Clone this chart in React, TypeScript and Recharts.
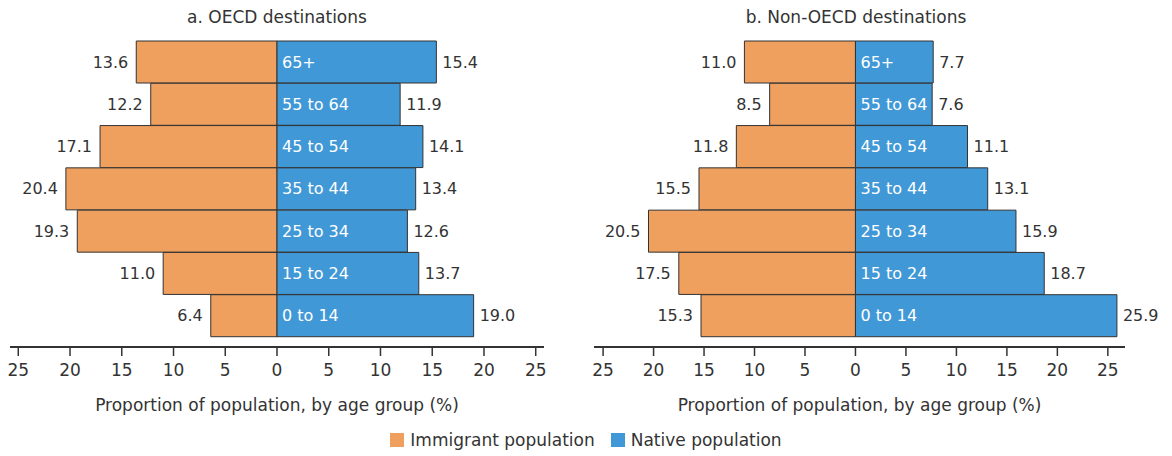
import React from "react";
import { BarChart, Bar, XAxis, YAxis, LabelList, Label } from "recharts";

const AGE_GROUPS = ["65+", "55 to 64", "45 to 54", "35 to 44", "25 to 34", "15 to 24", "0 to 14"];

const OECD_IMMIGRANT = [13.6, 12.2, 17.1, 20.4, 19.3, 11.0, 6.4];
const OECD_NATIVE = [15.4, 11.9, 14.1, 13.4, 12.6, 13.7, 19.0];

const NON_OECD_IMMIGRANT = [11.0, 8.5, 11.8, 15.5, 20.5, 17.5, 15.3];
const NON_OECD_NATIVE = [7.7, 7.6, 11.1, 13.1, 15.9, 18.7, 25.9];

const X_TICKS = [-25, -20, -15, -10, -5, 0, 5, 10, 15, 20, 25];

const ORANGE = "#EF9F5E";
const BLUE = "#4198D7";
const INK = "#333333";
const FONT = "'DejaVu Sans', sans-serif";
const FS = 17;
const LABEL_FS = 16;

const buildRows = (immigrant: number[], native: number[]) =>
  AGE_GROUPS.map((age, i) => ({ age, immigrant: -immigrant[i], native: native[i] }));

// labels drawn by hand so negative bars are handled the same way
const immigrantValue = (p: any) => {
  const x = Number(p.x), w = Number(p.width), y = Number(p.y), h = Number(p.height);
  const left = Math.min(x, x + w);
  return (
    <text x={left - 8} y={y + h / 2} textAnchor="end" dominantBaseline="central" fill={INK} fontSize={LABEL_FS} fontFamily={FONT}>
      {Math.abs(Number(p.value)).toFixed(1)}
    </text>
  );
};

const nativeValue = (p: any) => {
  const x = Number(p.x), w = Number(p.width), y = Number(p.y), h = Number(p.height);
  const right = Math.max(x, x + w);
  return (
    <text x={right + 6} y={y + h / 2} textAnchor="start" dominantBaseline="central" fill={INK} fontSize={LABEL_FS} fontFamily={FONT}>
      {Number(p.value).toFixed(1)}
    </text>
  );
};

const ageLabel = (p: any) => {
  const x = Number(p.x), w = Number(p.width), y = Number(p.y), h = Number(p.height);
  const left = Math.min(x, x + w);
  return (
    <text x={left + 5} y={y + h / 2} textAnchor="start" dominantBaseline="central" fill="#ffffff" fontSize={LABEL_FS} fontFamily={FONT}>
      {p.value}
    </text>
  );
};

interface PyramidProps {
  title: string;
  immigrant: number[];
  native: number[];
  left: number;
  width: number;
  marginLeft: number;
  marginRight: number;
  domain: [number, number];
  zeroX: number;
}

function Pyramid({ title, immigrant, native, left, width, marginLeft, marginRight, domain, zeroX }: PyramidProps) {
  const rows = buildRows(immigrant, native);
  return (
    <>
      <div
        style={{
          position: "absolute",
          left: zeroX - 200,
          top: 5,
          width: 400,
          textAlign: "center",
          fontFamily: FONT,
          fontSize: FS,
          lineHeight: "24px",
          color: INK,
        }}
      >
        {title}
      </div>
      <div style={{ position: "absolute", left, top: 0 }}>
        <BarChart
          width={width}
          height={420}
          data={rows}
          layout="vertical"
          stackOffset="sign"
          barCategoryGap={0}
          margin={{ top: 41, right: marginRight, left: marginLeft, bottom: 5 }}
        >
          <YAxis type="category" dataKey="age" hide padding={{ top: 0, bottom: 10 }} />
          <XAxis
            type="number"
            domain={domain}
            ticks={X_TICKS}
            interval={0}
            height={68}
            tickFormatter={(v: number) => String(Math.abs(v))}
            tick={{ fill: INK, fontSize: FS, fontFamily: FONT }}
            tickSize={9}
            tickMargin={8}
            axisLine={{ stroke: INK, strokeWidth: 2 }}
            tickLine={{ stroke: INK, strokeWidth: 1.5 }}
          >
            <Label
              value="Proportion of population, by age group (%)"
              position="insideBottom"
              offset={4}
              fill={INK}
              fontSize={FS}
              fontFamily={FONT}
            />
          </XAxis>
          <Bar dataKey="immigrant" stackId="a" fill={ORANGE} stroke={INK} strokeWidth={1} isAnimationActive={false}>
            <LabelList dataKey="immigrant" content={immigrantValue} />
          </Bar>
          <Bar dataKey="native" stackId="a" fill={BLUE} stroke={INK} strokeWidth={1} isAnimationActive={false}>
            <LabelList dataKey="native" content={nativeValue} />
            <LabelList dataKey="age" content={ageLabel} />
          </Bar>
        </BarChart>
      </div>
    </>
  );
}

export default function App() {
  return (
    <div style={{ position: "absolute", left: 0, top: 0, width: 1172, height: 456, background: "#fff" }}>
      <Pyramid
        title="a. OECD destinations"
        immigrant={OECD_IMMIGRANT}
        native={OECD_NATIVE}
        left={0}
        width={580}
        marginLeft={10}
        marginRight={36}
        domain={[-25.8, 25.8]}
        zeroX={277}
      />
      <Pyramid
        title="b. Non-OECD destinations"
        immigrant={NON_OECD_IMMIGRANT}
        native={NON_OECD_NATIVE}
        left={580}
        width={592}
        marginLeft={14}
        marginRight={47}
        domain={[-25.9, 26.7]}
        zeroX={856}
      />
      {/* shared legend */}
      <div
        style={{
          position: "absolute",
          left: 0,
          top: 428,
          width: 1172,
          display: "flex",
          justifyContent: "center",
          alignItems: "center",
          gap: 16,
          fontFamily: FONT,
          fontSize: FS,
          color: INK,
          lineHeight: "24px",
        }}
      >
        <span style={{ display: "flex", alignItems: "center", gap: 6 }}>
          <span style={{ width: 14, height: 14, background: ORANGE, display: "inline-block" }} />
          Immigrant population
        </span>
        <span style={{ display: "flex", alignItems: "center", gap: 6 }}>
          <span style={{ width: 14, height: 14, background: BLUE, display: "inline-block" }} />
          Native population
        </span>
      </div>
    </div>
  );
}
